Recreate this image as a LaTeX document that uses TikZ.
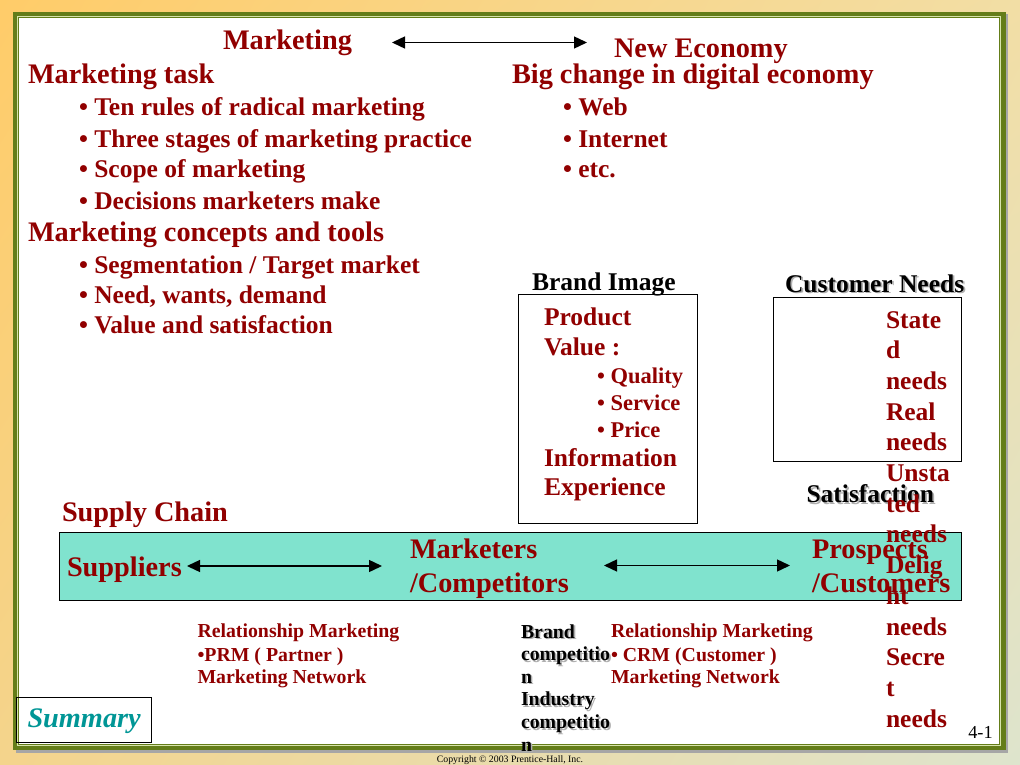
\documentclass[tikz,border=0pt]{standalone}
\usepackage{fontspec}
\setmainfont{Liberation Serif}
\usetikzlibrary{arrows.meta,shadings}
\definecolor{dred}{RGB}{145,0,0}
\definecolor{teal1}{RGB}{128,227,206}
\definecolor{sumteal}{RGB}{0,150,150}
\definecolor{frgreen}{RGB}{100,125,25}
\definecolor{frlight}{RGB}{215,228,170}
\definecolor{shgrey}{RGB}{175,175,175}
\definecolor{bgUL}{RGB}{255,204,105}
\definecolor{bgUR}{RGB}{242,222,165}
\definecolor{bgLL}{RGB}{244,212,140}
\definecolor{bgLR}{RGB}{222,228,205}
\begin{document}
\begin{tikzpicture}[x=1pt,y=-1pt,
  txt/.style={inner sep=0pt, outer sep=0pt, anchor=base west},
  h20/.style={txt, text=dred, font=\fontsize{28.3}{34}\selectfont\bfseries},
  b18/.style={txt, text=dred, font=\fontsize{25.5}{30}\selectfont\bfseries},
  b16/.style={txt, text=dred, font=\fontsize{22.5}{27}\selectfont\bfseries},
  s14/.style={txt, text=dred, font=\fontsize{19.8}{24}\selectfont\bfseries},
  box/.style={draw=black, line width=0.9pt, inner sep=0pt, outer sep=0pt},
  dbl/.style={{Triangle[length=13pt,width=12pt]}-{Triangle[length=13pt,width=12pt]}, line width=1.4pt},
]
\useasboundingbox (0,0) rectangle (1020,765);
% background
\shade[upper left=bgUL, upper right=bgUR, lower left=bgLL, lower right=bgLR] (0,0) rectangle (1020,765);
% frame
\fill[black!35] (15.5,14.5) rectangle (1007.5,752.5);
\fill[frgreen] (13,12) rectangle (1005.5,750);
\fill[frlight] (17,16.5) rectangle (1001,745.5);
\fill[frgreen] (17.8,17.3) rectangle (1000.2,744.7);
\fill[white] (19,18.5) rectangle (999,743.5);

% boxes
\node[box, minimum width=179pt, minimum height=228.5pt] (bbox) at (608,408.75) {};
\node[box, minimum width=187.5pt, minimum height=164pt] (cbox) at (867.25,379.5) {};
\node[box, fill=teal1, minimum width=902pt, minimum height=67.5pt] (tealbox) at (510,566.25) {};
\node[box, minimum width=135.5pt, minimum height=45.5pt] (sumbox) at (83.75,719.75) {};

% arrows
\coordinate (ta) at (392,42.5);
\coordinate (tb) at (587,42.5);
\draw[dbl] (ta) -- (tb);
\coordinate (sa) at (187,566);
\coordinate (sb) at (382,566);
\draw[dbl] (sa) -- (sb);
\coordinate (sc1) at (604,565.5);
\coordinate (sc2) at (790,565.5);
\draw[dbl] (sc1) -- (sc2);

\begin{scope}[yshift=-2pt]
% top
\node[h20] (mkt) at (223,48) {Marketing};
\node[h20] (neweco) at (614,56) {New Economy};

\node[h20] (mtask) at (28,82) {Marketing task};
\node[b18] (l1) at (79,114) {• Ten rules of radical marketing};
\node[b18] (l2) at (79,145) {• Three stages of marketing practice};
\node[b18] (l3) at (79,176) {• Scope of marketing};
\node[b18] (l4) at (79,207) {• Decisions marketers make};
\node[h20] (mconc) at (28,239) {Marketing concepts and tools};
\node[b18] (l5) at (79,271.5) {• Segmentation / Target market};
\node[b18] (l6) at (79,301.5) {• Need, wants, demand};
\node[b18] (l7) at (79,331.5) {• Value and satisfaction};

\node[h20] (bigc) at (512,82) {Big change in digital economy};
\node[b18] (r1) at (563,114) {• Web};
\node[b18] (r2) at (563,145) {• Internet};
\node[b18] (r3) at (563,176) {• etc.};

% brand image
\node[b18,text=black] (bimg) at (532,288) {Brand Image};
\node[b18] (p1) at (544,323) {Product};
\node[b18] (p2) at (544,353) {Value :};
\node[b16] (p3) at (597,381) {• Quality};
\node[b16] (p4) at (597,408) {• Service};
\node[b16] (p5) at (597,435) {• Price};
\node[b18] (p6) at (544,464) {Information};
\node[b18] (p7) at (544,493) {Experience};

% customer needs
\node[b18,text=shgrey] (cneeds) at (786.8,291.8) {Customer Needs};
\node[b18,text=black] (cneedsb) at (785,290) {Customer Needs};

% satisfaction
\node[b18,text=shgrey] (satis) at (808.3,502.3) {Satisfaction};
\node[b18,text=black] (satisb) at (806.5,500.5) {Satisfaction};

% supply chain
\node[h20] (sc) at (62,519.5) {Supply Chain};
\node[h20] (supp) at (67,574) {Suppliers};
\node[h20] (mk1) at (410,556.5) {Marketers};
\node[h20] (mk2) at (410,590) {/Competitors};
\node[h20] (pr1) at (812,556) {Prospects};
\node[h20] (pr2) at (812,590) {/Customers};

% customer needs column (overlapping)
\foreach \t [count=\i] in {State,d,needs,Real,needs,Unsta,ted,needs,Delig,ht,needs,Secre,t,needs} {
  \node[b18] (cn\i) at (886, {326+30.7*(\i-1)}) {\t};
}

% bottom texts
\node[s14] (rm1) at (197.5,635.5) {Relationship Marketing};
\node[s14] (rm2) at (197.5,659.5) {•PRM ( Partner )};
\node[s14] (rm3) at (197.5,681.5) {Marketing Network};
\node[s14] (rc1) at (611,635.5) {Relationship Marketing};
\node[s14] (rc2) at (611,659.5) {• CRM (Customer )};
\node[s14] (rc3) at (611,681.5) {Marketing Network};

\foreach \t [count=\i] in {Brand,competitio,n,Industry,competitio,n} {
  \node[s14,text=shgrey] (bcs\i) at (522.6, {637.6+22.6*(\i-1)}) {\t};
  \node[s14,text=black] (bc\i) at (521, {636+22.6*(\i-1)}) {\t};
}

% summary
\node[txt, text=sumteal, font=\fontsize{28.3}{34}\selectfont\bfseries\itshape] (summ) at (27.5,725.5) {Summary};

% page number
\node[txt, text=black, font=\fontsize{18.3}{22}\selectfont] (pg) at (968.3,736.5) {4-1};
\end{scope}
\node[inner sep=0pt, outer sep=0pt, anchor=base, text=black, font=\fontsize{9.8}{12}\selectfont] (copy) at (510,762.5) {Copyright © 2003 Prentice-Hall, Inc.};
\end{tikzpicture}
\end{document}
